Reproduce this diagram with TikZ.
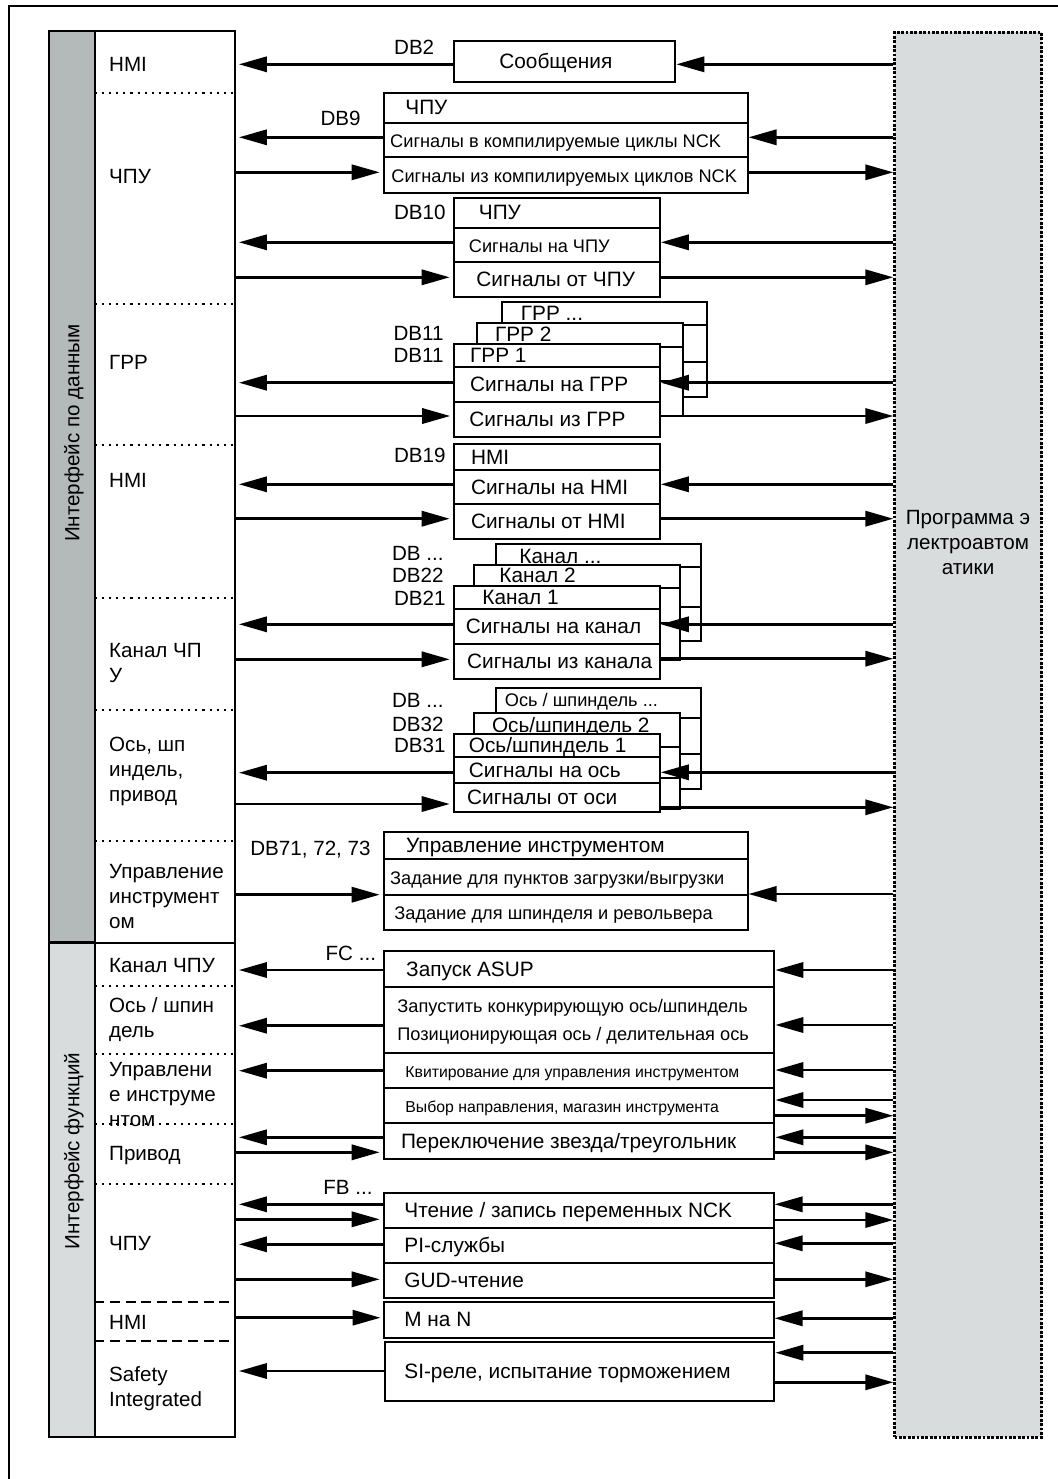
\documentclass[tikz,border=0pt]{standalone}
\usepackage{fontspec}
\setmainfont{Liberation Sans}
\usetikzlibrary{positioning, arrows.meta, fit}

\definecolor{stripdark}{RGB}{180,185,186}
\definecolor{striplight}{RGB}{217,220,221}

\tikzset{
  box/.style={draw, line width=1pt, inner sep=0pt},
  rowbox/.style={draw, fill=white, line width=1pt, inner sep=0pt},
  tx/.style={inner sep=0pt, text height=0.716em, text depth=0pt},
  tb/.style={tx, font=\fontsize{10.4}{12.5}\selectfont},
  tm/.style={tx, font=\fontsize{9.1}{12}\selectfont},
  ts/.style={tx, font=\fontsize{7.9}{10}\selectfont},
  lbl/.style={tx, anchor=west, font=\fontsize{10.3}{12.5}\selectfont},
  lbls/.style={inner sep=0pt, anchor=west, align=left, font=\fontsize{10.3}{12.5}\selectfont},
  dbl/.style={tx, anchor=east, font=\fontsize{10.3}{12.5}\selectfont},
  side/.style={tx, rotate=90, font=\fontsize{10.3}{12.5}\selectfont},
  sep/.style={line width=1pt, dash pattern=on 1.1pt off 2.5pt},
  sepdash/.style={line width=0.9pt, dash pattern=on 5pt off 2.8pt},
  sig/.style={line width=1.35pt, -{Triangle[length=14pt, width=7.6pt]}},
}

\begin{document}
\begin{tikzpicture}[x=0.5pt, y=-0.5pt]
\useasboundingbox (0,0) rectangle (1058,1479);

% outer frame (only top and left edge on the page)
\draw[line width=1pt] (1080,6) -- (8.6,6) -- (8.6,1500);

% left column: interface strips + signal groups
\node[box, fill=stripdark, fit={(49.2,30.7) (95.4,942)}] (dataif) {};
\node[box, fill=striplight, fit={(49.2,942) (95.4,1437.3)}] (funcif) {};
\node[box, fill=white, fit={(95.4,30.7) (234.5,1437.3)}] (col) {};
\draw[line width=1pt] (dataif.south west) -- (col.east |- dataif.south);
\node[side] (tdata) at (dataif.center |- 0,433) {Интерфейс по данным};
\node[side] (tfunc) at (funcif.center |- 0,1151) {Интерфейс функций};

\foreach \yy in {92.7, 304, 445, 598, 710, 840.7, 986, 1054, 1124, 1184}
  \draw[sep] (col.west |- 0,\yy) -- (col.east |- 0,\yy);
\foreach \yy in {1301.7, 1340.7}
  \draw[sepdash] (col.west |- 0,\yy) -- (col.east |- 0,\yy);

\node[lbl] (lhmi) at (108.8,64.3) {HMI};
\node[lbl] (lcnc) at (108.8,176.7) {ЧПУ};
\node[lbl] (lgrp) at (108.8,362.7) {ГРР};
\node[lbl] (lhmib) at (108.8,480) {HMI};
\node[lbls] (lchan) at (108.8,663.4) {Канал ЧП\\У};
\node[lbls] (lax) at (108.8,771.3) {Ось, шп\\индель,\\привод};
\node[lbls] (ltool) at (108.8,896.5) {Управление\\инструмент\\ом};
\node[lbl] (lfchan) at (108.8,965) {Канал ЧПУ};
\node[lbls] (lfax) at (108.8,1020) {Ось / шпин\\дель};
\node[lbls] (lftool) at (108.8,1094.3) {Управлени\\е инструме\\нтом};
\node[lbl] (ldrive) at (108.8,1153) {Привод};
\node[lbl] (lfcnc) at (108.8,1243.3) {ЧПУ};
\node[lbl] (lfhmi) at (108.8,1322.7) {HMI};
\node[lbls] (lsafe) at (108.8,1388.3) {Safety\\Integrated};

% PLC program
\node[draw, fill=striplight, line width=1.2pt, dash pattern=on 1.4pt off 0.8pt,
      inner sep=0pt, fit={(894.5,32.3) (1041.5,1437.3)}] (prog) {};
\node[lbls, anchor=center, align=center] (tprog) at (prog.center |- 0,542.3)
  {Программа э\\лектроавтом\\атики};

% stacked copies behind GRP, channel and axis blocks
\foreach \xa/\xb/\ya/\yb/\yc/\yd in {
    502/707.3/302.3/325/361.7/397.3, 476.5/682.7/323.3/346.7/381.3/415.7,
    495.9/701.3/544/567/606.7/640.7, 473.8/679.7/565/588.3/623.3/660,
    495.9/701.3/688.3/718.3/754/789, 473.8/679.7/713.3/746.7/778/809} {
  \draw[rowbox] (\xa,\ya) rectangle (\xb,\yd);
  \draw[line width=1pt] (\xa,\yb) -- (\xb,\yb) (\xa,\yc) -- (\xb,\yc);
}
\node[tb, anchor=west] (tgrp3) at (520.5,313.3) {ГРР ...};
\node[tb, anchor=west] (tgrp2) at (494.6,334.3) {ГРР 2};
\node[tb, anchor=west] (tchan3) at (519,556.7) {Канал ...};
\node[tb, anchor=west] (tchan2) at (499,575.7) {Канал 2};
\node[tm, anchor=west] (tax3) at (504.5,699.3) {Ось / шпиндель ...};
\node[tb, anchor=west] (tax2) at (491.6,725) {Ось/шпиндель 2};

% data blocks, one node per row
\foreach \nm/\xa/\xb/\ya/\yb in {
    msg/453.5/675.3/40.7/82,
    ncka/383.5/747.5/92.7/122.7, nckb/383.5/747.5/122.7/157.3, nckc/383.5/747.5/157.3/192.7,
    cnca/453.5/659.8/197.7/227.7, cncb/453.5/659.8/227.7/262.3, cncc/453.5/659.8/262.3/296.7,
    grpa/454/659.8/344.3/367.3, grpb/454/659.8/367.3/402.3, grpc/454/659.8/402.3/436.7,
    hmia/453.5/659.8/444/470, hmib/453.5/659.8/470/504.3, hmic/453.5/659.8/504.3/538.7,
    chana/453.5/659.8/586/609.3, chanb/453.5/659.8/609.3/644.3, chanc/453.5/659.8/644.3/679,
    axa/453.5/659.8/734.3/756.7, axb/453.5/659.8/756.7/783.3, axc/453.5/659.8/783.3/811.7,
    toola/383.5/747.5/832.3/859, toolb/383.5/747.5/859/894.7, toolc/383.5/747.5/894.7/930,
    asup/383.5/774.3/951/987.3, conc/383.5/774.3/987.3/1053.3, tack/383.5/774.3/1053.3/1088.3,
    tsel/383.5/774.3/1088.3/1123.3, star/383.5/774.3/1123.3/1159.3,
    nckrw/383.5/773.5/1192.7/1227.7, pisrv/383.5/773.5/1227.7/1262.7, gud/383.5/773.5/1262.7/1297.7,
    mton/384.3/773.5/1301.7/1337.7, sirel/385.2/774.3/1342.3/1400.7}
  \node[rowbox, fit={(\xa,\ya) (\xb,\yb)}] (\nm) {};

\node[tb, right=23.25pt of msg.west] (tmsg) {Сообщения};
\node[tb, right=11.25pt of ncka.west] (tncka) {ЧПУ};
\node[tm, right=3.65pt of nckb.west] (tnckb) {Сигналы в компилируемые циклы NCK};
\node[tm, right=4.25pt of nckc.west] (tnckc) {Сигналы из компилируемых циклов NCK};
\node[tb, right=13pt of cnca.west] (tcnca) {ЧПУ};
\node[tm, right=8pt of cncb.west] (tcncb) {Сигналы на ЧПУ};
\node[tb, right=11.75pt of cncc.west] (tcncc) {Сигналы от ЧПУ};
\node[tb, right=8.4pt of grpa.west] (tgrpa) {ГРР 1};
\node[tb, right=8.4pt of grpb.west] (tgrpb) {Сигналы на ГРР};
\node[tb, right=8pt of grpc.west] (tgrpc) {Сигналы из ГРР};
\node[tb, right=9.1pt of hmia.west] (thmia) {HMI};
\node[tb, right=9.1pt of hmib.west] (thmib) {Сигналы на HMI};
\node[tb, right=9.1pt of hmic.west] (thmic) {Сигналы от HMI};
\node[tb, right=14.75pt of chana.west] (tchana) {Канал 1};
\node[tb, right=6.5pt of chanb.west] (tchanb) {Сигналы на канал};
\node[tb, right=7.15pt of chanc.west] (tchanc) {Сигналы из канала};
\node[tb, right=8pt of axa.west] (taxa) {Ось/шпиндель 1};
\node[tb, right=8pt of axb.west] (taxb) {Сигналы на ось};
\node[tb, right=7.15pt of axc.west] (taxc) {Сигналы от оси};
\node[tb, right=11.65pt of toola.west] (ttoola) {Управление инструментом};
\node[tm, right=3.65pt of toolb.west] (ttoolb) {Задание для пунктов загрузки/выгрузки};
\node[tm, right=5.75pt of toolc.west] (ttoolc) {Задание для шпинделя и револьвера};
\node[tb, right=11.65pt of asup.west] (tasup) {Запуск ASUP};
\node[tm, right=7.25pt of conc.west, yshift=7.3pt] (tconc) {Запустить конкурирующую ось/шпиндель};
\node[tm, right=7.25pt of conc.west, yshift=-6.5pt] (tpos) {Позиционирующая ось / делительная ось};
\node[ts, right=11.25pt of tack.west] (ttack) {Квитирование для управления инструментом};
\node[ts, right=11.25pt of tsel.west] (ttsel) {Выбор направления, магазин инструмента};
\node[tb, right=9.05pt of star.west] (tstar) {Переключение звезда/треугольник};
\node[tb, right=10.75pt of nckrw.west] (tnckrw) {Чтение / запись переменных NCK};
\node[tb, right=10.75pt of pisrv.west] (tpisrv) {PI-службы};
\node[tb, right=10.75pt of gud.west] (tgud) {GUD-чтение};
\node[tb, right=10.35pt of mton.west] (tmton) {M на N};
\node[tb, right=9.9pt of sirel.west] (tsirel) {SI-реле, испытание торможением};

% block numbers
\foreach \nm/\xx/\yy/\txt in {
    dbtwo/434.6/47.7/DB2, dbnine/361/118.3/DB9, dbten/446/212/DB10,
    dbgrpb/444/333.3/DB11, dbgrpa/444/355/DB11, dbhmi/446/455.7/DB19,
    dbchanx/444/553.3/{DB ...}, dbchanb/444/575/DB22, dbchana/446/598/DB21,
    dbaxx/444/700/{DB ...}, dbaxb/444/724/DB32, dbaxa/446/745.7/DB31,
    dbtool/371/848.3/{DB71, 72, 73}, fcno/376.4/953.3/{FC ...}, fbno/373/1187/{FB ...}}
  \node[dbl] (\nm) at (\xx,\yy) {\txt};

% signals between blocks and the column
\foreach \nm/\yy in {msg/64.3, nckb/137.3, cncb/242.3, grpb/382.7, hmib/484.3,
    chanb/624.3, axb/772.7, asup/970, conc/1025.7, tack/1070.7, star/1137.3,
    nckrw/1204.3, pisrv/1244.3, sirel/1371}
  \draw[sig, shorten >=1.7pt] (\nm.west |- 0,\yy) -- (col.east |- 0,\yy);
\foreach \nm/\yy in {nckc/172.3, cncc/277.3, grpc/416, hmic/518.7, chanc/659.3,
    axc/804, toolc/894.7, star/1152.3, nckrw/1219.3, gud/1279.3, mton/1317.7}
  \draw[sig, shorten >=1.4pt] (col.east |- 0,\yy) -- (\nm.west |- 0,\yy);

% signals between blocks and the PLC program
\foreach \nm/\yy in {msg/64.3, nckb/137.3, cncb/242.3, grpb/382.7, hmib/484.3,
    chanb/624.3, axb/772.3, toolc/894, asup/970, conc/1025, tack/1070, tsel/1100,
    star/1137.3, nckrw/1204.3, pisrv/1243.3, mton/1318.3, sirel/1352.7}
  \draw[sig] (prog.west |- 0,\yy) -- (\nm.east |- 0,\yy);
\foreach \nm/\yy in {nckc/172.3, cncc/277.3, grpc/416, hmic/518.7, chanc/658.7,
    axc/807.3, tsel/1115.7, star/1152.3, nckrw/1220, gud/1279.3, sirel/1382.3}
  \draw[sig] (\nm.east |- 0,\yy) -- (prog.west |- 0,\yy);
\end{tikzpicture}
\end{document}
